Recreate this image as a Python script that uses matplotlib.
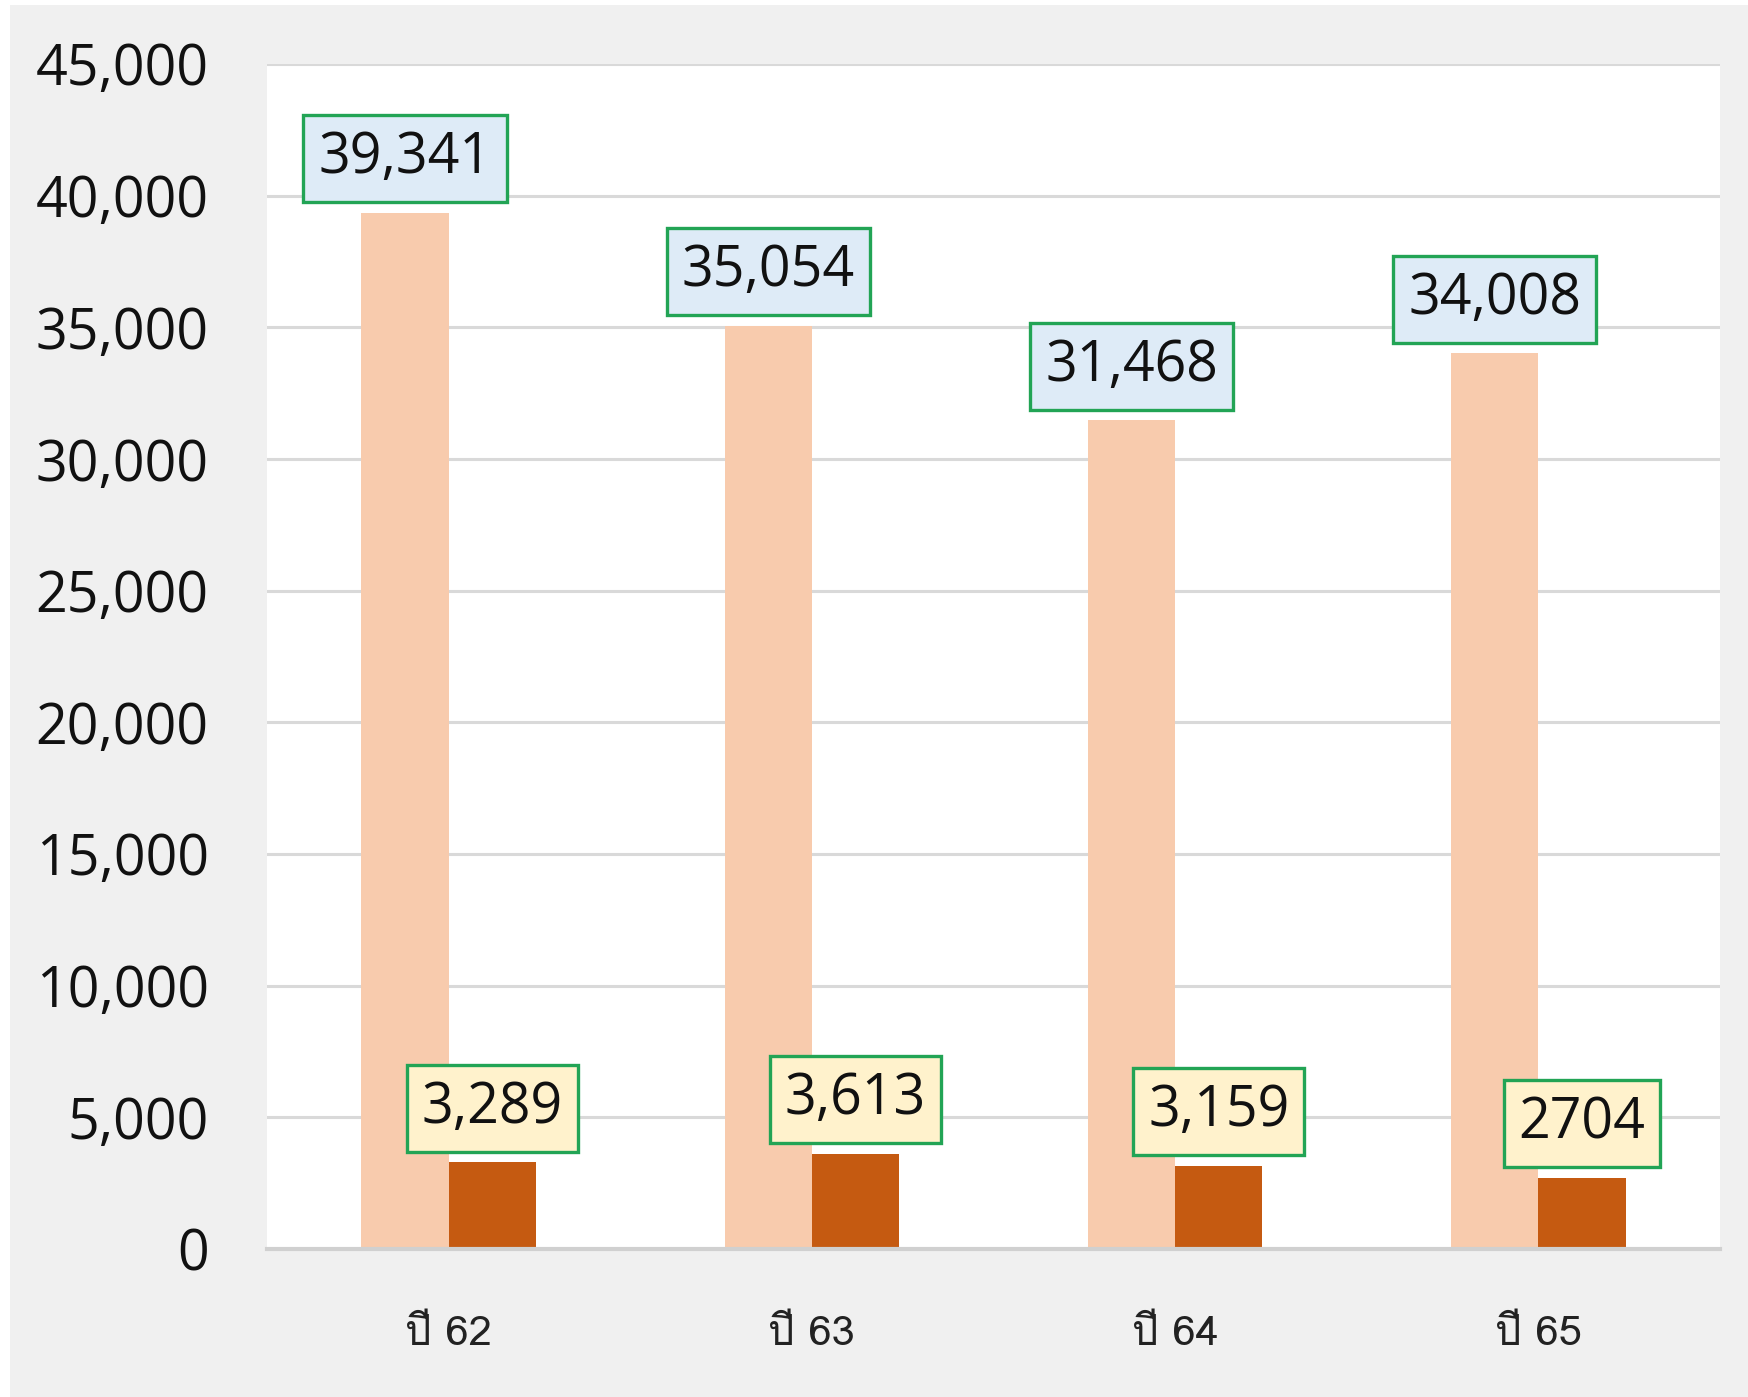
import matplotlib
matplotlib.use("Agg")
import matplotlib.pyplot as plt
from matplotlib import font_manager
from matplotlib.ft2font import FT2Font
from matplotlib.patches import Rectangle
from matplotlib.ticker import FuncFormatter, MultipleLocator
import numpy as np

categories = ["ปี 62", "ปี 63", "ปี 64", "ปี 65"]
series_a = [39341, 35054, 31468, 34008]
series_b = [3289, 3613, 3159, 2704]
labels_a = ["39,341", "35,054", "31,468", "34,008"]
labels_b = ["3,289", "3,613", "3,159", "2704"]

# find an installed family that has Thai glyphs
thai_families = []
for fe in font_manager.fontManager.ttflist:
    try:
        cmap = FT2Font(fe.fname).get_charmap()
    except Exception:
        continue
    if 0x0E1B in cmap and 0x0E35 in cmap and fe.name not in thai_families:
        thai_families.append(fe.name)

plt.rcParams['font.family'] = ['Open Sans', 'DejaVu Sans']

W, H, DPI = 1748, 1397, 100
fig = plt.figure(figsize=(W / DPI, H / DPI), dpi=DPI, facecolor="white")
fig.patches.append(Rectangle((10 / W, 0), 1 - 10 / W, 1 - 5 / H, transform=fig.transFigure,
                             facecolor="#f0f0f0", edgecolor="none", zorder=-10))

ax = fig.add_axes([267 / W, 148 / H, (1720 - 267) / W, (1249 - 64) / H])
ax.set_facecolor("white")

x = np.arange(len(categories))
bw = 0.24
ax.bar(x - bw / 2, series_a, width=bw, color="#F8CBAD", zorder=2)
ax.bar(x + bw / 2, series_b, width=bw, color="#C55A11", zorder=2)

ax.set_xlim(-0.5, len(categories) - 0.5)
ax.set_ylim(0, 45000)
ax.yaxis.set_major_locator(MultipleLocator(5000))
ax.yaxis.set_major_formatter(FuncFormatter(lambda v, p: f"{int(v):,}"))
ax.grid(axis="y", color="#D9D9D9", linewidth=2.2, zorder=0)
ax.set_axisbelow(True)
for s in ["top", "right", "left"]:
    ax.spines[s].set_visible(False)
ax.spines["bottom"].set_color("#D0D0D0")
ax.spines["bottom"].set_linewidth(3)
ax.spines["bottom"].set_zorder(3)

ax.tick_params(axis="y", length=0, pad=42, labelsize=40, labelcolor="#111111")
ax.tick_params(axis="x", length=0, pad=48, labelsize=30, labelcolor="#222222")
ax.set_xticks(x)
ax.set_xticklabels(categories, family=thai_families[:3] + ['DejaVu Sans'])

def box_label(xpos, yval, txt, fc):
    ax.annotate(txt, (xpos, yval), xytext=(0, 18.4), textcoords="offset points",
                ha="center", va="bottom", fontsize=40, color="#111111", zorder=5,
                bbox=dict(boxstyle="square,pad=0.27", facecolor=fc, edgecolor="#22A455",
                          linewidth=2.4))

for i in range(len(categories)):
    box_label(x[i] - bw / 2, series_a[i], labels_a[i], "#DEEBF7")
    box_label(x[i] + bw / 2, series_b[i], labels_b[i], "#FFF2CC")

fig.savefig("out.png", dpi=DPI, facecolor=fig.get_facecolor())
